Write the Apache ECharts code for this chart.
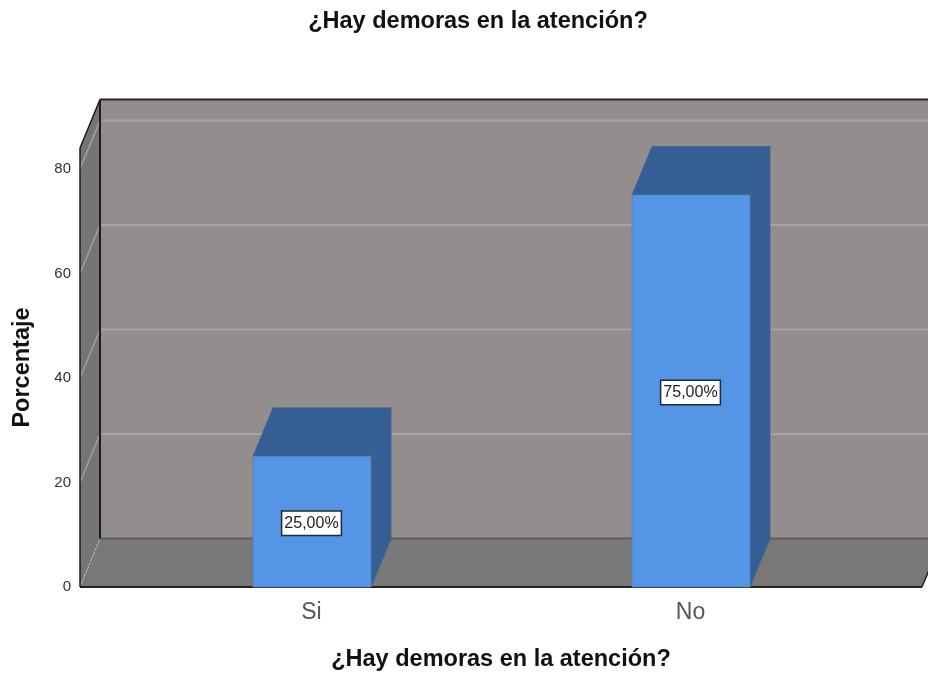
<!DOCTYPE html>
<html>
<head>
<meta charset="utf-8">
<style>html,body{margin:0;padding:0;background:#fff}#c{width:928px;height:673px}</style>
<script src="https://cdn.jsdelivr.net/npm/echarts@6/dist/echarts.min.js"></script>
</head>
<body>
<div id="c"></div>
<script>
var categories = ['Si', 'No'];
var percentValues = [25, 75];
var barLabels = ['25,00%', '75,00%'];
var gridTicks = [0, 20, 40, 60, 80];
var axisTop = 84;
var titleText = '¿Hay demoras en la atención?';
var yAxisTitle = 'Porcentaje';

var DX = 20, DY = -48.5, SIDE = 42, BAR_W = 118;
var FONT = '"Liberation Sans", Arial, sans-serif';

function poly(points, fill, stroke, lw) {
  return { type: 'polygon', shape: { points: points },
    style: { fill: fill, stroke: stroke || null, lineWidth: lw || 0 } };
}
function seg(a, b, color, lw, dash) {
  return { type: 'line', shape: { x1: a[0], y1: a[1], x2: b[0], y2: b[1] },
    style: { stroke: color, lineWidth: lw, lineDash: dash || null, fill: null } };
}

function renderScene(params, api) {
  var cs = params.coordSys;
  var L = cs.x - SIDE, R = cs.x + cs.width + SIDE;
  var y0 = api.coord([0, 0])[1], yT = api.coord([0, axisTop])[1];
  var bL = L + DX, bR = R + DX;
  var c = [];
  c.push(poly([[bL, yT + DY], [bR, yT + DY], [bR, y0 + DY], [bL, y0 + DY]], '#938e8d'));
  c.push(poly([[L, yT], [bL, yT + DY], [bL, y0 + DY], [L, y0]], '#757575'));
  c.push(poly([[L, y0], [bL, y0 + DY], [bR, y0 + DY], [R, y0]], '#787878'));
  gridTicks.forEach(function (t) {
    if (t === 0) return;
    var y = api.coord([0, t])[1];
    c.push(seg([L, y], [bL, y + DY], '#a3a09e', 1.5));
    c.push(seg([bL, y + DY], [bR, y + DY], '#a8a4a2', 2));
  });
  c.push(seg([bL, y0 + DY], [bR, y0 + DY], '#5e5e5e', 2));
  c.push(seg([L, y0], [bL, y0 + DY], '#c4c4c4', 1, [2, 2]));
  c.push(seg([bL, yT + DY], [bL, y0 + DY], '#1c1c1c', 2));
  c.push(seg([bL, yT + DY], [bR, yT + DY], '#2a2828', 2));
  c.push(seg([L, yT], [bL, yT + DY], '#1c1c1c', 1.5));
  c.push(seg([L, yT], [L, y0], '#1c1c1c', 1.5));
  c.push(seg([L, y0], [R, y0], '#222222', 2));
  c.push(seg([R, y0], [bR, y0 + DY], '#222222', 1.5));
  return { type: 'group', children: c };
}

function renderBar(params, api) {
  var p = api.coord([api.value(0), api.value(1)]);
  var base = api.coord([api.value(0), 0]);
  var xl = p[0] - BAR_W / 2 + 0.5, xr = p[0] + BAR_W / 2 + 0.5, yt = p[1], yb = base[1];
  var mid = (yt + yb) / 2;
  return { type: 'group', children: [
    poly([[xl, yt], [xl + DX, yt + DY], [xr + DX, yt + DY], [xr, yt]], '#355f94', '#40608a', 0.8),
    poly([[xr, yt], [xr + DX, yt + DY], [xr + DX, yb + DY], [xr, yb]], '#355f94', '#40608a', 0.8),
    poly([[xl, yt], [xr, yt], [xr, yb], [xl, yb]], '#5595e6', '#4f7fba', 0.8),
    { type: 'text', x: p[0], y: mid + 1.5, style: {
        text: barLabels[params.dataIndex], font: '16px ' + FONT, fill: '#222',
        align: 'center', verticalAlign: 'middle',
        backgroundColor: '#fff', borderColor: '#1f2a3a', borderWidth: 1.5, padding: [4, 2, 3, 2] } }
  ] };
}

var chart = echarts.init(document.getElementById('c'), null, { renderer: 'canvas' });
chart.setOption({
  animation: false,
  backgroundColor: '#fff',
  title: { text: titleText, left: 473, top: 5, textAlign: 'center',
    textStyle: { fontFamily: FONT, fontSize: 23.5, fontWeight: 'bold', color: '#111' } },
  grid: { left: 122, width: 758, top: 148, height: 439, outerBoundsMode: 'none' },
  xAxis: { type: 'category', data: categories,
    name: titleText, nameLocation: 'middle', nameGap: 61,
    nameTextStyle: { fontFamily: FONT, fontSize: 23.5, fontWeight: 'bold', color: '#111' },
    axisLine: { show: false }, axisTick: { show: false },
    axisLabel: { fontFamily: FONT, fontSize: 23, color: '#555', margin: 14 },
    splitLine: { show: false } },
  yAxis: { type: 'value', min: 0, max: axisTop, interval: 20, offset: SIDE,
    name: yAxisTitle, nameLocation: 'middle', nameGap: 45,
    nameTextStyle: { fontFamily: FONT, fontSize: 23.5, fontWeight: 'bold', color: '#111' },
    axisLine: { show: false }, axisTick: { show: false }, splitLine: { show: false },
    axisLabel: { fontFamily: FONT, fontSize: 15, color: '#333', margin: 9, showMaxLabel: false, padding: [3, 0, 0, 0] } },
  series: [
    { type: 'custom', renderItem: renderScene, silent: true, z: 1,
      data: [[categories[0], 0]], encode: { x: 0, y: 1 } },
    { type: 'custom', renderItem: renderBar, z: 2,
      data: categories.map(function (c, i) { return [i, percentValues[i]]; }),
      encode: { x: 0, y: 1 } }
  ]
});
</script>
</body>
</html>
